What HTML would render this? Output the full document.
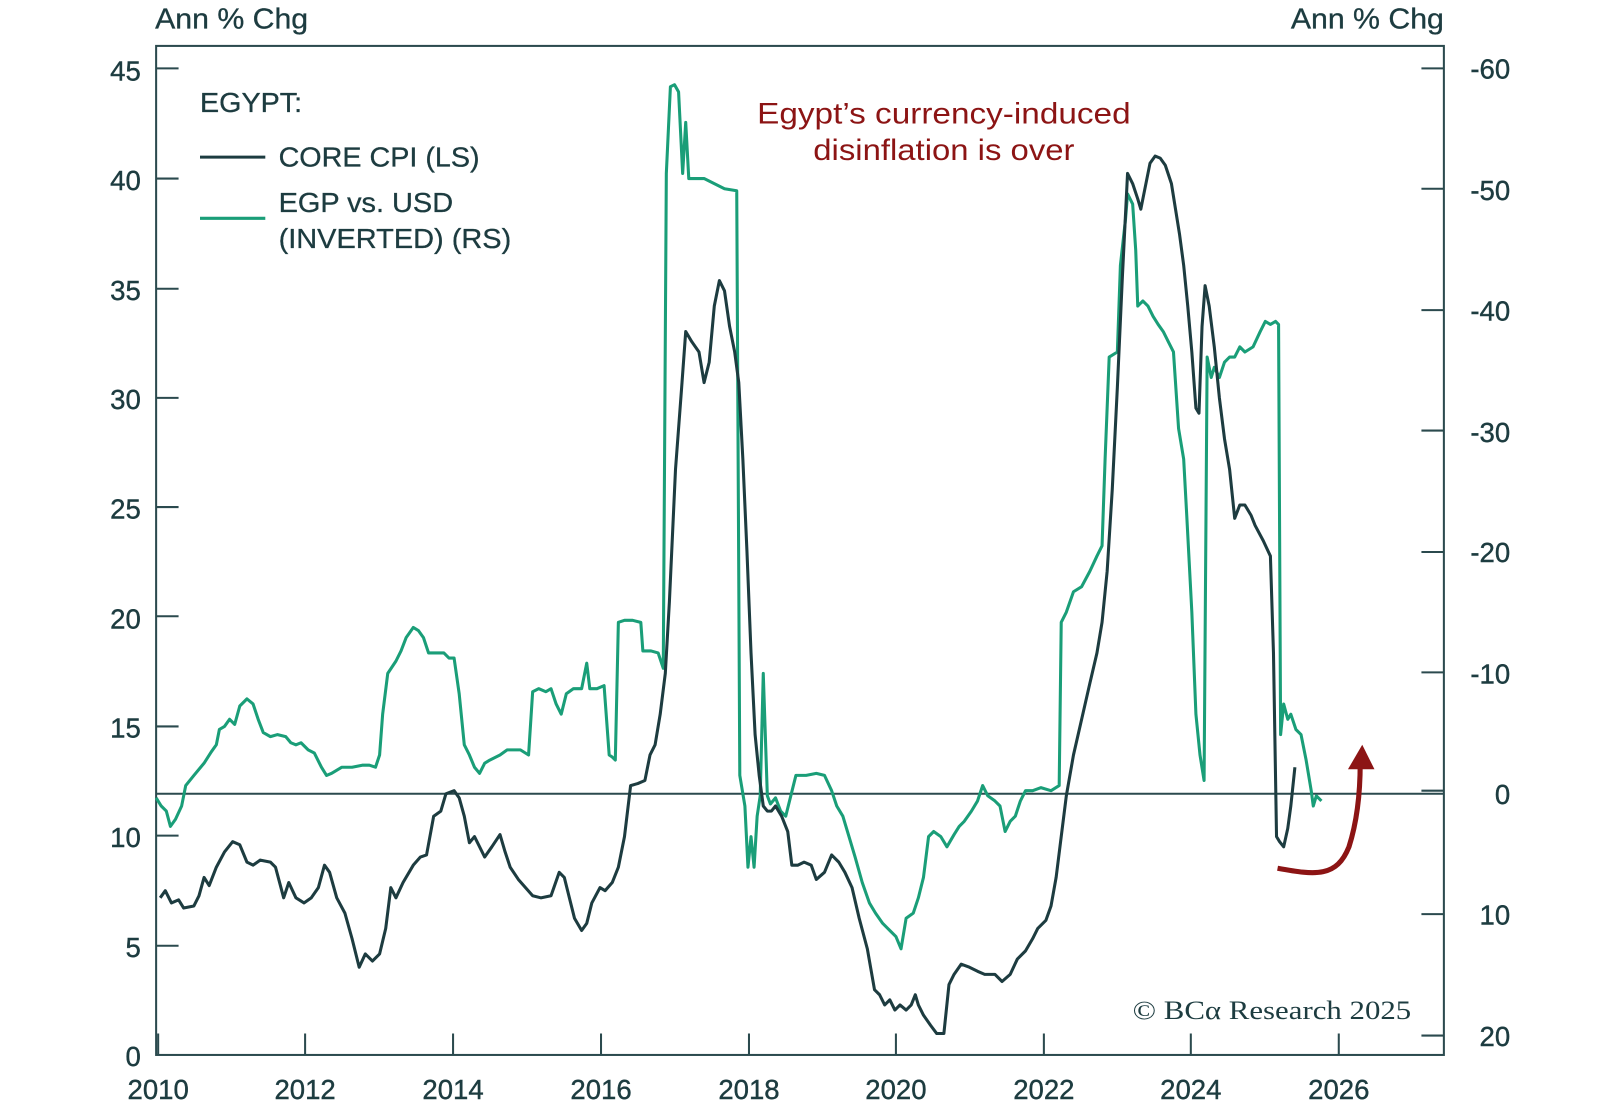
<!DOCTYPE html>
<html><head><meta charset="utf-8"><style>
html,body{margin:0;padding:0;background:#fff;}
svg{display:block;}
text{font-family:"Liberation Sans",sans-serif;fill:#1d3c40;}
</style></head><body>
<svg width="1600" height="1108" viewBox="0 0 1568 1086" preserveAspectRatio="none" xmlns="http://www.w3.org/2000/svg">
<rect x="0" y="0" width="1568" height="1086" fill="#fff"/>
<g fill="none" stroke="#2b4a4e" stroke-width="2">
<rect x="153" y="45" width="1262" height="989"/>
<line x1="153" y1="778" x2="1415" y2="778"/>
<path d="M153 67h22M153 175h22M153 283h22M153 390h22M153 497h22M153 604h22M153 712h22M153 819h22M153 927h22"/>
<path d="M1393 67h22M1393 185h22M1393 304h22M1393 422h22M1393 541h22M1393 659h22M1393 775h22M1393 896h22M1393 1015h22"/>
<path d="M155 1013v21M299 1013v21M444 1013v21M589 1013v21M734 1013v21M878 1013v21M1023 1013v21M1167 1013v21M1312 1013v21"/>
</g>
<g font-size="27" text-anchor="end" stroke="#1d3c40" stroke-width="0.4">
<text x="138" y="79">45</text><text x="138" y="186">40</text><text x="138" y="294">35</text><text x="138" y="401">30</text><text x="138" y="508">25</text><text x="138" y="616">20</text><text x="138" y="723">15</text><text x="138" y="830">10</text><text x="138" y="938">5</text><text x="138" y="1045">0</text>
</g>
<g font-size="27" text-anchor="end" stroke="#1d3c40" stroke-width="0.4">
<text x="1480" y="77">-60</text><text x="1480" y="196">-50</text><text x="1480" y="314">-40</text><text x="1480" y="433">-30</text><text x="1480" y="551">-20</text><text x="1480" y="670">-10</text><text x="1480" y="788">0</text><text x="1480" y="906">10</text><text x="1480" y="1025">20</text>
</g>
<g font-size="27" text-anchor="middle" stroke="#1d3c40" stroke-width="0.4">
<text x="155" y="1077">2010</text><text x="299" y="1077">2012</text><text x="444" y="1077">2014</text><text x="589" y="1077">2016</text><text x="734" y="1077">2018</text><text x="878" y="1077">2020</text><text x="1023" y="1077">2022</text><text x="1167" y="1077">2024</text><text x="1312" y="1077">2026</text>
</g>
<g stroke="#1d3c40" stroke-width="0.3">
<text x="152" y="28" font-size="28" textLength="150" lengthAdjust="spacingAndGlyphs">Ann % Chg</text>
<text x="1265" y="28" font-size="28" textLength="150" lengthAdjust="spacingAndGlyphs">Ann % Chg</text>
<text x="196" y="110" font-size="27" textLength="100" lengthAdjust="spacingAndGlyphs">EGYPT:</text>
<text x="273" y="163" font-size="27" textLength="197" lengthAdjust="spacingAndGlyphs">CORE CPI (LS)</text>
<text x="273" y="208" font-size="27" textLength="171" lengthAdjust="spacingAndGlyphs">EGP vs. USD</text>
<text x="273" y="243" font-size="27" textLength="228" lengthAdjust="spacingAndGlyphs">(INVERTED) (RS)</text>
</g>
<line x1="196" y1="154" x2="260" y2="154" stroke="#1d3c40" stroke-width="3"/>
<line x1="196" y1="214" x2="260" y2="214" stroke="#1a9e78" stroke-width="3"/>
<text x="742" y="121" font-size="29" textLength="366" lengthAdjust="spacingAndGlyphs" style="fill:#8c1414">Egypt’s currency-induced</text>
<text x="797" y="157" font-size="29" textLength="256" lengthAdjust="spacingAndGlyphs" style="fill:#8c1414">disinflation is over</text>
<text x="1110" y="999" font-size="26" textLength="273" lengthAdjust="spacingAndGlyphs" style="font-family:'Liberation Serif',serif">© BCα Research 2025</text>
<polyline fill="none" stroke="#1a9e78" stroke-width="3" stroke-linejoin="round" points="153,782 158,790 163,795 167,810 172,803 178,790 182,770 190,760 200,748 207,737 212,730 215,715 220,712 225,705 230,710 235,692 242,685 248,690 253,705 258,718 265,722 272,720 280,722 285,728 290,730 295,728 302,735 308,738 315,752 320,760 325,758 335,752 345,752 355,750 362,750 368,752 372,740 375,700 380,660 388,648 393,638 398,625 405,615 410,618 415,625 420,640 425,640 435,640 440,645 445,645 450,680 455,730 460,740 465,752 470,758 475,748 480,745 490,740 497,735 510,735 518,740 522,678 528,675 535,678 540,675 545,690 550,700 555,680 562,675 570,675 575,650 578,675 585,675 592,672 597,740 600,742 603,745 606,610 612,608 620,608 628,610 630,638 638,638 645,640 650,655 653,170 657,85 661,83 665,90 669,170 672,120 675,175 680,175 690,175 700,180 710,185 722,187 725,760 730,790 733,850 736,820 739,850 742,800 745,780 748,660 752,780 755,788 760,782 765,795 770,800 775,780 780,760 790,760 800,758 808,760 815,775 820,790 826,800 832,820 838,840 845,865 852,885 858,895 865,905 870,910 878,918 883,930 888,900 895,895 900,880 905,860 910,820 915,815 922,820 928,830 935,818 940,810 945,805 952,795 958,785 963,770 968,780 975,785 980,790 985,815 990,805 995,800 1000,785 1005,775 1012,775 1020,772 1030,775 1038,770 1040,610 1045,600 1052,580 1060,575 1068,560 1075,545 1080,535 1083,450 1087,350 1095,345 1098,260 1103,215 1105,190 1110,200 1113,245 1115,300 1120,295 1125,300 1130,310 1135,318 1140,325 1145,335 1150,345 1155,420 1160,450 1163,505 1168,600 1172,700 1176,740 1180,765 1183,350 1187,370 1190,360 1195,370 1200,355 1205,350 1210,350 1215,340 1220,345 1228,340 1235,325 1240,315 1245,318 1250,315 1253,318 1255,720 1258,690 1262,705 1265,700 1270,715 1275,720 1280,745 1285,775 1287,790 1290,780 1295,785"/>
<polyline fill="none" stroke="#1d3c40" stroke-width="3" stroke-linejoin="round" points="157,880 162,873 168,885 175,882 180,890 190,888 195,878 200,860 205,868 212,850 220,835 228,825 235,828 242,845 248,848 255,843 265,845 270,850 278,880 283,865 290,880 298,885 305,880 312,870 318,848 323,855 330,880 338,895 345,920 352,948 358,935 365,942 372,935 378,910 383,870 388,880 395,865 405,848 412,840 418,838 425,800 432,795 437,778 445,775 450,782 455,800 460,826 465,820 470,830 475,840 482,830 490,818 495,835 500,850 508,862 515,870 522,878 530,880 540,878 548,855 553,860 558,880 563,900 570,912 575,905 580,885 588,870 593,873 600,865 606,850 612,820 618,770 625,768 632,765 637,740 642,730 647,700 652,660 656,590 662,460 668,380 672,325 678,335 685,345 690,375 695,355 700,300 705,275 710,285 715,320 720,345 724,375 728,450 732,540 736,640 740,720 744,760 748,790 752,795 756,795 760,790 766,800 772,815 776,848 782,848 788,845 795,848 800,862 808,855 815,838 822,845 828,855 835,870 842,900 850,930 857,970 862,975 867,985 872,980 877,990 882,985 888,990 893,985 897,975 900,985 905,995 912,1005 918,1013 925,1013 930,965 935,955 942,945 950,948 958,952 965,955 975,955 982,962 990,955 997,940 1005,932 1012,920 1017,910 1025,902 1030,888 1035,860 1040,820 1045,780 1052,740 1060,705 1068,670 1075,640 1080,610 1085,560 1090,480 1095,380 1100,270 1105,170 1110,180 1115,195 1118,205 1122,185 1127,160 1132,153 1137,155 1142,162 1148,180 1152,205 1156,230 1160,260 1164,300 1168,345 1172,400 1175,405 1178,320 1181,280 1185,300 1190,340 1195,390 1200,430 1205,460 1210,508 1215,495 1220,495 1226,505 1230,515 1238,530 1245,545 1248,640 1251,820 1254,825 1258,830 1262,812 1265,790 1269,752"/>
<path d="M1252 851 C1290 858 1310 860 1322 830 C1330 805 1333 775 1333 748" fill="none" stroke="#8c1414" stroke-width="5"/>
<path d="M1321 754 L1335 730 L1347 754 Z" fill="#8c1414"/>
</svg>
</body></html>
